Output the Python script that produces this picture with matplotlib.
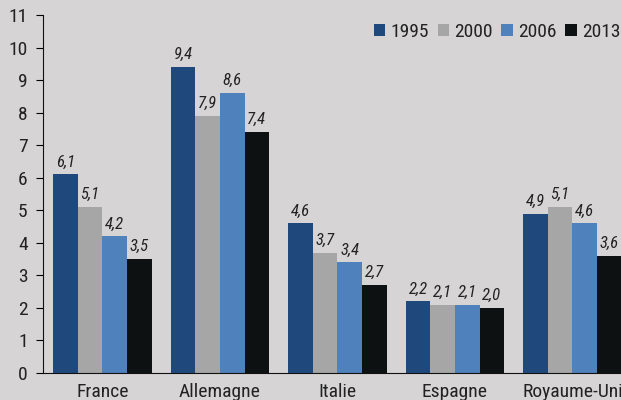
import matplotlib
matplotlib.use("Agg")
import matplotlib.pyplot as plt
from matplotlib import font_manager
import numpy as np

categories = ["France", "Allemagne", "Italie", "Espagne", "Royaume-Uni"]
years = ["1995", "2000", "2006", "2013"]
v1995 = [6.1, 9.4, 4.6, 2.2, 4.9]
v2000 = [5.1, 7.9, 3.7, 2.1, 5.1]
v2006 = [4.2, 8.6, 3.4, 2.1, 4.6]
v2013 = [3.5, 7.4, 2.7, 2.0, 3.6]
series = [v1995, v2000, v2006, v2013]
colors = ["#1f497d", "#a6a6a6", "#4f81bd", "#0e1111"]

bg = "#d6d4d5"
names = {f.name for f in font_manager.fontManager.ttflist}
fam = "Roboto Condensed" if "Roboto Condensed" in names else "Liberation Sans"
plt.rcParams['font.family'] = [fam, 'DejaVu Sans']

fig = plt.figure(figsize=(6.21, 4.0), dpi=100, facecolor=bg)
ax = fig.add_axes([43/621, 27/400, 1 - 43/621, 358/400])
ax.set_facecolor(bg)

x = np.arange(len(categories))
w = 0.209
for i, (vals, c, yr) in enumerate(zip(series, colors, years)):
    pos = x + (i - 1.5) * w
    ax.bar(pos, vals, width=w, color=c, label=yr, zorder=2)
    for p, v in zip(pos, vals):
        ax.text(p, v + 0.15, f"{v:.1f}".replace(".", ","), ha="center", va="bottom",
                fontsize=12, style="italic", color="#222222")

ax.set_xlim(-0.506, 4.413)
ax.set_ylim(0, 11)
ax.set_yticks(range(0, 12))
ax.set_xticks(x)
ax.set_xticklabels(categories, fontsize=14, color="#222222")
ax.tick_params(axis="x", length=0, pad=7)
ax.tick_params(axis="y", direction="out", length=5, labelsize=14, labelcolor="#222222", pad=6)
for s in ["top", "right"]:
    ax.spines[s].set_visible(False)
ax.spines["left"].set_color("#111111")
ax.spines["bottom"].set_color("#111111")

leg = ax.legend(loc="upper right", bbox_to_anchor=(1.012, 1.0), ncol=4, frameon=False,
                fontsize=14, handlelength=0.6, handleheight=0.6, handletextpad=0.25,
                columnspacing=0.45, borderaxespad=0.0)
for t in leg.get_texts():
    t.set_color("#222222")

fig.savefig("out.png", dpi=100, facecolor=bg)
